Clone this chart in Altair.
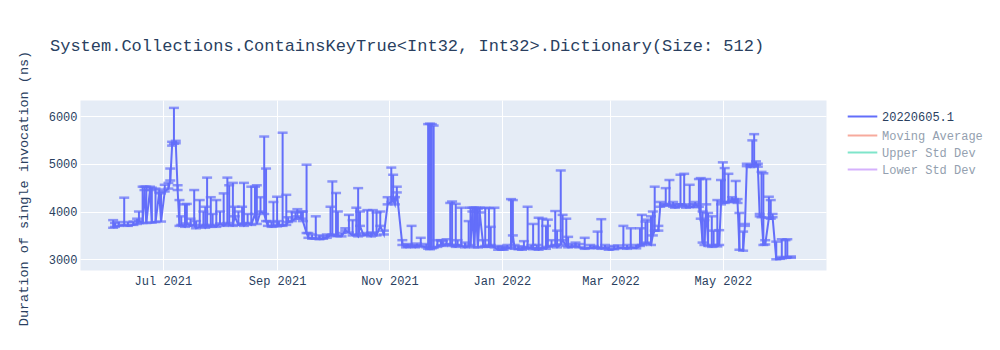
import altair as alt
import pandas as pd

dates = [
    "2021-06-04", "2021-06-05", "2021-06-07", "2021-06-10", "2021-06-12", "2021-06-15", "2021-06-17", "2021-06-18",
    "2021-06-20", "2021-06-21", "2021-06-22", "2021-06-24", "2021-06-25", "2021-06-27", "2021-06-29", "2021-06-30",
    "2021-07-02", "2021-07-04", "2021-07-05", "2021-07-06", "2021-07-07", "2021-07-08", "2021-07-09", "2021-07-10",
    "2021-07-11", "2021-07-13", "2021-07-14", "2021-07-16", "2021-07-18", "2021-07-19", "2021-07-21", "2021-07-23",
    "2021-07-24", "2021-07-25", "2021-07-27", "2021-07-28", "2021-07-30", "2021-08-01", "2021-08-03", "2021-08-05",
    "2021-08-06", "2021-08-08", "2021-08-09", "2021-08-11", "2021-08-13", "2021-08-14", "2021-08-16", "2021-08-18",
    "2021-08-20", "2021-08-21", "2021-08-23", "2021-08-25", "2021-08-26", "2021-08-27", "2021-08-29", "2021-08-30",
    "2021-09-01", "2021-09-02", "2021-09-04", "2021-09-06", "2021-09-07", "2021-09-09", "2021-09-11", "2021-09-12",
    "2021-09-14", "2021-09-15", "2021-09-17", "2021-09-18", "2021-09-20", "2021-09-22", "2021-09-24", "2021-09-26",
    "2021-09-28", "2021-09-30", "2021-10-01", "2021-10-03", "2021-10-04", "2021-10-06", "2021-10-08", "2021-10-10",
    "2021-10-12", "2021-10-14", "2021-10-15", "2021-10-16", "2021-10-18", "2021-10-20", "2021-10-22", "2021-10-23",
    "2021-10-25", "2021-10-27", "2021-10-29", "2021-10-31", "2021-11-02", "2021-11-03", "2021-11-04", "2021-11-05",
    "2021-11-08", "2021-11-10", "2021-11-11", "2021-11-13", "2021-11-15", "2021-11-16", "2021-11-18", "2021-11-21",
    "2021-11-22", "2021-11-23", "2021-11-24", "2021-11-25", "2021-11-27", "2021-11-29", "2021-11-30", "2021-12-02",
    "2021-12-04", "2021-12-05", "2021-12-07", "2021-12-08", "2021-12-10", "2021-12-12", "2021-12-14", "2021-12-15",
    "2021-12-16", "2021-12-17", "2021-12-18", "2021-12-19", "2021-12-20", "2021-12-22", "2021-12-23", "2021-12-25",
    "2021-12-26", "2021-12-28", "2021-12-30", "2022-01-01", "2022-01-02", "2022-01-04", "2022-01-06", "2022-01-07",
    "2022-01-08", "2022-01-10", "2022-01-12", "2022-01-13", "2022-01-15", "2022-01-17", "2022-01-18", "2022-01-20",
    "2022-01-21", "2022-01-23", "2022-01-25", "2022-01-26", "2022-01-28", "2022-01-30", "2022-01-31", "2022-02-02",
    "2022-02-03", "2022-02-05", "2022-02-06", "2022-02-08", "2022-02-10", "2022-02-12", "2022-02-15", "2022-02-18",
    "2022-02-20", "2022-02-22", "2022-02-24", "2022-02-26", "2022-02-28", "2022-03-03", "2022-03-05", "2022-03-08",
    "2022-03-10", "2022-03-12", "2022-03-15", "2022-03-17", "2022-03-18", "2022-03-20", "2022-03-21", "2022-03-23",
    "2022-03-24", "2022-03-25", "2022-03-27", "2022-03-28", "2022-03-30", "2022-03-31", "2022-04-02", "2022-04-04",
    "2022-04-05", "2022-04-07", "2022-04-08", "2022-04-10", "2022-04-11", "2022-04-13", "2022-04-15", "2022-04-16",
    "2022-04-18", "2022-04-19", "2022-04-20", "2022-04-21", "2022-04-22", "2022-04-23", "2022-04-25", "2022-04-26",
    "2022-04-28", "2022-04-29", "2022-04-30", "2022-05-01", "2022-05-02", "2022-05-04", "2022-05-06", "2022-05-07",
    "2022-05-08", "2022-05-09", "2022-05-10", "2022-05-12", "2022-05-13", "2022-05-14", "2022-05-16", "2022-05-17",
    "2022-05-18", "2022-05-19", "2022-05-20", "2022-05-21", "2022-05-22", "2022-05-23", "2022-05-24", "2022-05-26",
    "2022-05-27", "2022-05-28", "2022-05-30", "2022-06-01", "2022-06-02", "2022-06-04", "2022-06-05", "2022-06-07",
]

means = [
    3660, 3680, 3700, 3720, 3700, 3720, 3740, 3800,
    3760, 4450, 3760, 4450, 3770, 3780, 4400, 3790,
    4420, 4480, 4650, 5380, 5420, 5430, 4450, 3700,
    3720, 3680, 3750, 3700, 3720, 3650, 3680, 3720,
    3660, 3700, 3680, 3720, 3680, 3750, 3700, 3760,
    3720, 3700, 3900, 3720, 3750, 3700, 3760, 3720,
    3950, 3740, 4000, 3950, 3800, 3700, 3680, 3700,
    3690, 3720, 3700, 3720, 3780, 3800, 3850, 3900,
    3850, 3800, 3550, 3450, 3430, 3440, 3420, 3430,
    3450, 3500, 3520, 3480, 3500, 3480, 3600, 3560,
    3500, 3520, 3480, 3700, 3500, 3520, 3480, 3550,
    3500, 3700, 3520, 4150, 4200, 4250, 4150, 4400,
    3300, 3250, 3260, 3280, 3250, 3270, 3280, 3250,
    3220, 3210, 3230, 3240, 3260, 3300, 3280, 3320,
    3300, 3280, 3260, 3300, 3280, 3250, 3270, 3300,
    4000, 3250, 4000, 3250, 3980, 3260, 3280, 3260,
    3300, 3250, 3200, 3210, 3200, 3230, 3250, 3500,
    3220, 3210, 3200, 3220, 3250, 3230, 3210, 3230,
    3200, 3240, 3220, 3260, 3280, 3300, 3250, 3310,
    3400, 3280, 3250, 3260, 3280, 3250, 3220, 3240,
    3230, 3250, 3220, 3240, 3200, 3210, 3230, 3240,
    3220, 3250, 3230, 3280, 3300, 3330, 3350, 3300,
    3500, 3600, 3600, 4100, 4120, 4150, 4130, 4100,
    4080, 4100, 4150, 4120, 4080, 4100, 4090, 4150,
    4100, 3850, 3350, 3300, 4150, 3280, 3260, 3300,
    3270, 3300, 4150, 4200, 4180, 4200, 4230, 4200,
    4220, 4180, 3200, 3180, 3700, 4950, 4930, 4960,
    4950, 4980, 4940, 3900, 3880, 3300, 3310, 3870,
    3850, 3880, 3000, 3010, 3020, 3030, 3040, 3030,
]

uppers = [
    3820, 3760, 3780, 4290, 3780, 3790, 3850, 4000,
    4520, 4520, 4520, 4520, 4500, 4480, 4460, 4380,
    4560, 4600, 4900, 5460, 6170, 5480, 4550, 4240,
    3900, 4150, 4160, 3850, 4450, 3800, 4240, 4000,
    4100, 4710, 4300, 3950, 4240, 4000, 4380, 4710,
    4550, 4600, 4100, 4000, 4100, 4600, 3950, 4520,
    4520, 4550, 4300, 5570, 4900, 3800, 3780, 4200,
    4310, 3800, 5650, 4350, 3880, 4000, 3980, 4050,
    4000, 4000, 4980, 3550, 3520, 3900, 3500, 3480,
    3520, 4100, 4630, 4390, 4000, 3550, 3650, 3930,
    3820, 4080, 4490, 4000, 3550, 4030, 3560, 4030,
    3980, 4000, 3600, 4300, 4920, 4770, 4300, 4520,
    3400, 3300, 3320, 3700, 3300, 3330, 3450, 3320,
    5830, 5840, 5830, 5800, 3400, 3400, 3380, 3420,
    4180, 4210, 4160, 3400, 4080, 3350, 3800, 4080,
    4080, 4080, 4080, 4060, 4080, 3400, 4080, 4070,
    3680, 4080, 3280, 3260, 3260, 3300, 4260, 4240,
    3300, 3270, 3260, 3380, 4100, 3300, 3740, 3300,
    3870, 3850, 3700, 3830, 3400, 4010, 3600, 4860,
    3930, 3850, 3470, 3320, 3350, 3320, 3450, 3300,
    3280, 3580, 3840, 3300, 3260, 3280, 3290, 3700,
    3300, 3650, 3300, 3650, 3930, 3790, 3830, 3900,
    4000, 4520, 3700, 4200, 4160, 4490, 4660, 4200,
    4150, 4150, 4770, 4790, 4150, 4560, 4150, 4200,
    4680, 4700, 4000, 3820, 4680, 3970, 3900, 3600,
    4240, 3610, 4660, 5030, 4910, 4790, 4300, 4260,
    4640, 4260, 3970, 3580, 3740, 5000, 4980, 5490,
    5620, 5050, 5000, 3950, 4830, 4800, 3400, 4310,
    4240, 3950, 3370, 3050, 3420, 3400, 3420, 3060,
]

series_name = "20220605.1"
other_series = ["Moving Average", "Upper Std Dev", "Lower Std Dev"]
other_colors = ["#F7AA9D", "#7FE5CA", "#D5B1FC"]
x_tick_years = [2021, 2021, 2021, 2022, 2022, 2022]
x_tick_months = [7, 9, 11, 1, 3, 5]
y_ticks = [3000, 4000, 5000, 6000]
y_domain = [2776, 6335]

title_text = "System.Collections.ContainsKeyTrue<Int32, Int32>.Dictionary(Size: 512)"
y_title = "Duration of single invocation (ns)"

FONT = "Liberation Mono"
BLUE = "#636EFA"
TXT = "#2a3f5f"

df = pd.DataFrame({"date": dates, "mean": means, "upper": uppers})
df["series"] = series_name

x_enc = alt.X(
    "date:T",
    title=None,
    scale=alt.Scale(
        domain=[alt.DateTime(year=2021, month=5, date=17), alt.DateTime(year=2022, month=6, date=26)],
        nice=False,
    ),
    axis=alt.Axis(
        values=[alt.DateTime(year=y, month=m, date=1) for y, m in zip(x_tick_years, x_tick_months)],
        format="%b %Y",
        labelAngle=0,
        labelFont=FONT,
        labelFontSize=12,
        labelColor=TXT,
        labelPadding=5,
        ticks=False,
        domain=False,
        grid=True,
        gridColor="white",
        gridWidth=1,
    ),
)

y_axis = alt.Axis(
    values=y_ticks,
    format="d",
    labelFont=FONT,
    labelFontSize=12,
    labelColor=TXT,
    labelPadding=3,
    ticks=False,
    domain=False,
    grid=True,
    gridColor="white",
    gridWidth=1,
    titleFont=FONT,
    titleFontSize=13.5,
    titleFontWeight="normal",
    titleColor=TXT,
    titleAngle=270,
    titleAlign="center",
    titleBaseline="middle",
    titleX=-57,
    titleY=88,
)
y_scale = alt.Scale(domain=y_domain, nice=False, zero=False)


def y_enc(field):
    return alt.Y(field, title=y_title, scale=y_scale, axis=y_axis)


base = alt.Chart(df)

bars = base.mark_rule(color=BLUE, strokeWidth=2).encode(
    x=x_enc, y=y_enc("mean:Q"), y2="upper:Q"
)
caps_top = base.mark_tick(color=BLUE, orient="horizontal", size=10, thickness=2.5).encode(
    x=x_enc, y=y_enc("upper:Q")
)
caps_bot = base.mark_tick(color=BLUE, orient="horizontal", size=10, thickness=2.5).encode(
    x=x_enc, y=y_enc("mean:Q")
)

legend_common = dict(
    title=None,
    orient="none",
    symbolType="M-1.6,0L1.6,0",
    symbolSize=342,
    symbolStrokeWidth=2,
    labelFont=FONT,
    labelFontSize=12,
    labelOffset=9,
    rowPadding=0,
    padding=0,
    legendX=772,
)

line = base.mark_line(strokeWidth=2).encode(
    x=x_enc,
    y=y_enc("mean:Q"),
    color=alt.Color(
        "series:N",
        scale=alt.Scale(domain=[series_name], range=[BLUE]),
        legend=alt.Legend(labelColor=TXT, legendY=6, **legend_common),
    ),
)

others = (
    base.transform_filter("false")
    .transform_calculate(other="'none'")
    .mark_line(strokeWidth=2)
    .encode(
        x=x_enc,
        y=y_enc("mean:Q"),
        stroke=alt.Stroke(
            "other:N",
            scale=alt.Scale(domain=other_series, range=other_colors),
            legend=alt.Legend(labelColor="#949faf", legendY=25, **legend_common),
        ),
    )
)

chart = (
    alt.layer(bars, caps_top, caps_bot, line, others)
    .resolve_legend(color="independent", stroke="independent")
    .properties(
        width=746,
        height=170,
        autosize=alt.AutoSizeParams(type="none"),
        padding={"left": 80, "top": 100, "right": 174, "bottom": 80},
        background="white",
        title=alt.TitleParams(
            text=title_text,
            anchor="start",
            font=FONT,
            fontSize=17,
            fontWeight="normal",
            color=TXT,
            dx=34,
            dy=13,
            offset=0,
            baseline="middle",
        ),
    )
    .configure_view(fill="#E5ECF6", stroke="transparent")
)

chart.save("out.html", embed_options={"renderer": "svg", "actions": False})
